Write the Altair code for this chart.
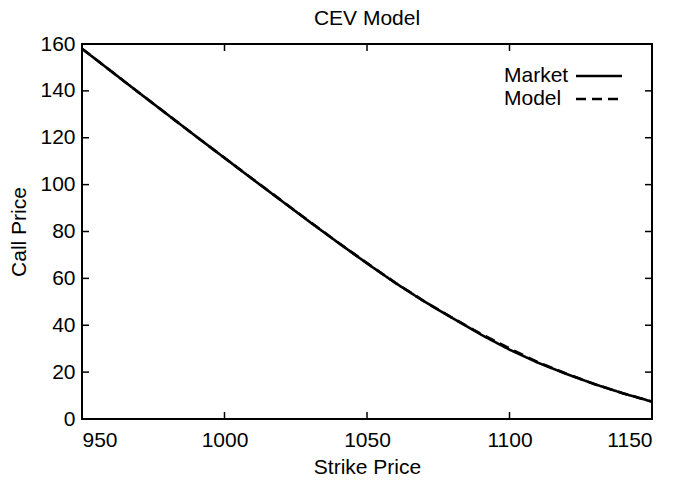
import altair as alt
import pandas as pd

strikes = [950, 960, 970, 980, 990, 1000, 1010, 1020, 1030, 1040, 1050,
           1060, 1070, 1080, 1090, 1100, 1110, 1120, 1130, 1140, 1150]
market = [158.0, 148.6, 139.2, 129.9, 120.6, 111.4, 102.2, 93.1, 84.0, 75.1, 66.4,
          58.0, 50.2, 43.0, 36.0, 29.6, 24.0, 19.2, 14.8, 10.9, 7.4]
model = [158.0, 148.6, 139.2, 129.9, 120.6, 111.4, 102.3, 93.2, 84.1, 75.2, 66.5,
         58.1, 50.3, 43.1, 36.3, 30.1, 24.2, 19.3, 14.8, 10.9, 7.4]
series_names = ["Market", "Model"]
x_ticks = [950, 1000, 1050, 1100, 1150]
y_ticks = [0, 20, 40, 60, 80, 100, 120, 140, 160]

n = len(strikes)
df = pd.DataFrame({
    "Strike": strikes + strikes,
    "Price": market + model,
    "Series": [series_names[0]] * n + [series_names[1]] * n,
})

W, H = 570, 375
TL = 7
FONT = "Liberation Sans"

xs = alt.Scale(domain=[950, 1150], nice=False, zero=False)
ys = alt.Scale(domain=[0, 160], nice=False)
dash_scale = alt.Scale(domain=series_names, range=[[1, 0], [10, 6]])

lines = alt.Chart(df).mark_line(color="black", strokeWidth=2.6).encode(
    x=alt.X("Strike:Q", scale=xs,
            axis=alt.Axis(values=x_ticks, title="Strike Price", ticks=False, domain=False,
                          grid=False, labelPadding=10, titlePadding=6, format="d")),
    y=alt.Y("Price:Q", scale=ys,
            axis=alt.Axis(values=y_ticks, title="Call Price", ticks=False, domain=False,
                          grid=False, labelPadding=7, titlePadding=10, format="d")),
    strokeDash=alt.StrokeDash("Series:N", scale=dash_scale, legend=None),
)

xt = pd.DataFrame({"Strike": x_ticks[1:-1]})
yt = pd.DataFrame({"Price": y_ticks[1:-1]})

tick_bottom = alt.Chart(xt).mark_rule(color="black", strokeWidth=1.5).encode(
    x=alt.X("Strike:Q", scale=xs), y=alt.value(H), y2=alt.value(H - TL))
tick_top = alt.Chart(xt).mark_rule(color="black", strokeWidth=1.5).encode(
    x=alt.X("Strike:Q", scale=xs), y=alt.value(0), y2=alt.value(TL))
tick_left = alt.Chart(yt).mark_rule(color="black", strokeWidth=1.5).encode(
    y=alt.Y("Price:Q", scale=ys), x=alt.value(0), x2=alt.value(TL))
tick_right = alt.Chart(yt).mark_rule(color="black", strokeWidth=1.5).encode(
    y=alt.Y("Price:Q", scale=ys), x=alt.value(W), x2=alt.value(W - TL))

# legend (gnuplot style: label on the left, line sample on the right)
legend_layers = []
for i, name in enumerate(series_names):
    ld = pd.DataFrame({"Series": [name]})
    row_y = 32 + 23 * i
    legend_layers.append(
        alt.Chart(ld).mark_text(align="left", baseline="middle", fontSize=21, font=FONT,
                                color="black").encode(
            x=alt.value(422), y=alt.value(row_y), text="Series:N"))
    legend_layers.append(
        alt.Chart(ld).mark_rule(color="black", strokeWidth=2.5).encode(
            x=alt.value(494), x2=alt.value(540), y=alt.value(row_y),
            strokeDash=alt.StrokeDash("Series:N", scale=dash_scale, legend=None)))

chart = alt.layer(lines, tick_bottom, tick_top, tick_left, tick_right,
                  *legend_layers).properties(
    width=W, height=H,
    title=alt.TitleParams("CEV Model", fontSize=21, font=FONT, fontWeight="normal",
                          color="black", anchor="middle", offset=4),
    autosize=alt.AutoSizeParams(type="none"),
    padding={"left": 74, "top": 36, "right": 15, "bottom": 58},
).configure_view(
    stroke="black", strokeWidth=2
).configure_axis(
    labelFontSize=21, titleFontSize=21, labelFont=FONT, titleFont=FONT,
    labelColor="black", titleColor="black", titleFontWeight="normal"
)

chart.save("out.html", embed_options={"renderer": "svg", "actions": False})
